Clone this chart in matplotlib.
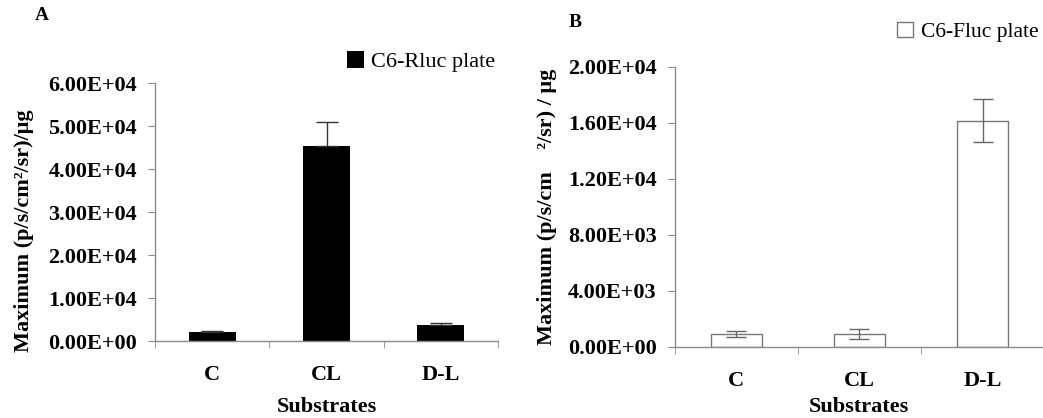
import matplotlib.pyplot as plt
import numpy as np

plt.rcParams['font.family'] = ['Liberation Serif', 'DejaVu Serif']

cats = ["C", "CL", "D-L"]
rluc = [2100, 45500, 3750]
rluc_err = [300, 5400, 450]
fluc = [900, 900, 16150]
fluc_err = [220, 350, 1550]

fig = plt.figure(figsize=(10.43, 4.18), dpi=100)
x = np.arange(len(cats))
spc = '#8a8a8a'


def style(ax, ticks, xlpad):
    for s in ['top', 'right']:
        ax.spines[s].set_visible(False)
    for s in ['left', 'bottom']:
        ax.spines[s].set_color(spc)
        ax.spines[s].set_linewidth(1.0)
    ax.set_xlim(-0.5, 2.5)
    ax.set_xticks(x)
    ax.set_xticklabels(cats, fontsize=16, fontweight='bold')
    ax.set_xticks([-0.5, 0.5, 1.5, 2.5], minor=True)
    ax.tick_params(axis='x', which='major', length=0, pad=17)
    ax.tick_params(axis='x', which='minor', length=5, color=spc, direction='out')
    ax.set_yticks(ticks)
    ax.set_yticklabels(["%.2E" % t for t in ticks], fontsize=16, fontweight='bold')
    ax.tick_params(axis='y', length=5, color=spc, direction='out', pad=8)
    ax.set_xlabel("Substrates", fontsize=16, fontweight='bold', labelpad=xlpad)


# panel A
ax1 = fig.add_axes([0.1486, 0.184, 0.329, 0.617])
b1 = ax1.bar(x, rluc, width=0.41, color='black', label='C6-Rluc plate')
ax1.errorbar(x, rluc, yerr=[[0, 0, 0], rluc_err], fmt='none', ecolor='#333333',
             elinewidth=1, capsize=8, capthick=1)
ax1.set_ylim(0, 60000)
style(ax1, [0, 10000, 20000, 30000, 40000, 50000, 60000], 9)
ax1.set_ylabel("Maximum (p/s/cm\u00b2/sr)/\u03bcg", fontsize=16, fontweight='bold')
ax1.yaxis.set_label_coords(-0.353, 0.43)
ax1.legend(handles=[b1], loc='center left', bbox_to_anchor=(0.322, 0.852),
           bbox_transform=fig.transFigure, frameon=False, fontsize=16,
           handlelength=0.75, handleheight=0.75, handletextpad=0.35, borderpad=0)
fig.text(0.033, 0.962, "A", fontsize=14, fontweight='bold', va='center')

# panel B
ax2 = fig.add_axes([0.647, 0.170, 0.354, 0.670])
b2 = ax2.bar(x, fluc, width=0.41, color='white', edgecolor='#777777', linewidth=1,
             label='C6-Fluc plate')
ax2.errorbar(x, fluc, yerr=fluc_err, fmt='none', ecolor='#666666',
             elinewidth=1, capsize=7, capthick=1)
ax2.set_ylim(0, 20000)
style(ax2, [0, 4000, 8000, 12000, 16000, 20000], 5)
ax2.set_ylabel("Maximum (p/s/cm    \u00b2/sr) / \u03bcg", fontsize=16,
               fontweight='bold')
ax2.yaxis.set_label_coords(-0.32, 0.5)
ax2.legend(handles=[b2], loc='center left', bbox_to_anchor=(0.850, 0.924),
           bbox_transform=fig.transFigure, frameon=False, fontsize=15.5,
           handlelength=0.75, handleheight=0.75, handletextpad=0.35, borderpad=0)
fig.text(0.545, 0.945, "B", fontsize=14, fontweight='bold', va='center')

fig.savefig("out.png", dpi=100)
